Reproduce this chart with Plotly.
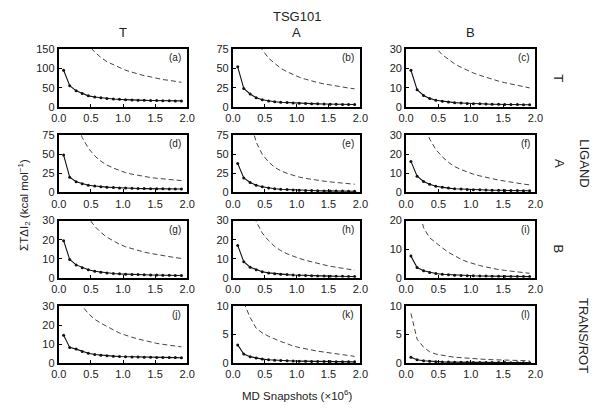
import plotly.graph_objects as go

# x positions (MD snapshots, x10^6)
snapshots = [0.075, 0.17, 0.27, 0.365, 0.46, 0.56, 0.655, 0.75, 0.85, 0.945,
             1.04, 1.14, 1.235, 1.33, 1.43, 1.525, 1.62, 1.72, 1.815, 1.91]

panel_labels = ["(a)", "(b)", "(c)", "(d)", "(e)", "(f)",
                "(g)", "(h)", "(i)", "(j)", "(k)", "(l)"]
col_titles = ["T", "A", "B"]
row_titles = ["T", "A", "B"]
y_max = [150, 75, 30, 75, 75, 30, 30, 30, 20, 30, 10, 10]
y_dtick = [50, 25, 10, 25, 25, 10, 10, 10, 10, 10, 5, 5]

N = None
solid_a = [95, 55, 42, 35, 29, 26, 24, 22, 21, 20, 19, 18.5, 18, 17.5, 17, 16.8, 16.5, 16.2, 16, 16]
dash_a = [N, N, N, 186, 160, 142, 128, 117, 109, 101, 95, 90, 85, 81, 78, 74, 71, 69, 66, 64]
solid_b = [52, 24, 17, 12, 9.5, 8, 7, 6.3, 5.8, 5.3, 5, 4.7, 4.4, 4.2, 4, 3.8, 3.7, 3.5, 3.4, 3.3]
dash_b = [N, N, N, 88, 74, 63, 56, 50, 45.5, 41.7, 38.6, 35.9, 33.6, 31.7, 29.9, 28.4, 27, 25.8, 24.6, 23.6]
solid_c = [19, 9, 6, 4.5, 3.5, 3, 2.6, 2.3, 2.1, 1.9, 1.8, 1.7, 1.6, 1.5, 1.45, 1.4, 1.35, 1.3, 1.25, 1.2]
dash_c = [N, N, N, 36, 30.5, 27, 24.5, 22.3, 20.5, 19, 17.6, 16.4, 15.3, 14.3, 13.4, 12.6, 11.9, 11.2, 10.5, 9.9]
solid_d = [49, 20, 14, 11.5, 9.5, 8.5, 7.5, 7, 6.5, 6, 5.8, 5.5, 5.3, 5.1, 5, 4.9, 4.8, 4.7, 4.6, 4.5]
dash_d = [N, N, 95, 72, 58, 48, 41, 36, 32, 28.5, 26, 24, 22.3, 20.8, 19.6, 18.6, 17.7, 16.9, 16.2, 15.6]
solid_e = [38, 19, 13, 9.5, 7.5, 6, 5, 4.3, 3.8, 3.4, 3.0, 2.7, 2.5, 2.3, 2.1, 2.0, 1.9, 1.8, 1.7, 1.6]
dash_e = [N, N, 95, 66, 50, 40, 33, 28.5, 25, 22.3, 20.2, 18.5, 17, 15.8, 14.8, 13.9, 13, 12.2, 11.5, 10.8]
solid_f = [16.3, 8.5, 5.8, 4.3, 3.3, 2.7, 2.3, 2.0, 1.8, 1.6, 1.5, 1.4, 1.3, 1.2, 1.15, 1.1, 1.05, 1.0, 0.95, 0.9]
dash_f = [N, N, 37, 28, 22.5, 18.7, 15.8, 13.6, 12, 10.7, 9.6, 8.7, 7.9, 7.2, 6.5, 6, 5.4, 4.9, 4.4, 4.0]
solid_g = [19.5, 9.6, 6.8, 5.3, 4.2, 3.5, 3.0, 2.6, 2.3, 2.1, 1.9, 1.8, 1.7, 1.6, 1.5, 1.45, 1.4, 1.35, 1.3, 1.25]
dash_g = [N, N, N, 37, 31.5, 27, 23.8, 21.3, 19.3, 17.6, 16.3, 15.2, 14.3, 13.5, 12.8, 12.2, 11.6, 11.1, 10.6, 10.2]
solid_h = [17, 8.5, 5.6, 4.2, 3.2, 2.6, 2.2, 1.9, 1.7, 1.5, 1.35, 1.2, 1.1, 1.0, 0.95, 0.9, 0.85, 0.8, 0.75, 0.7]
dash_h = [N, N, 40, 29.5, 23.5, 19.5, 16.5, 14.3, 12.6, 11.3, 10.2, 9.2, 8.3, 7.5, 6.8, 6.1, 5.5, 5.0, 4.5, 4.0]
solid_i = [7.6, 3.6, 2.5, 1.9, 1.5, 1.25, 1.1, 0.95, 0.85, 0.78, 0.72, 0.67, 0.62, 0.58, 0.55, 0.52, 0.5, 0.48, 0.46, 0.44]
dash_i = [N, 27, 17.5, 14, 12.2, 10.5, 8.9, 7.6, 6.5, 5.6, 4.9, 4.3, 3.8, 3.3, 2.9, 2.6, 2.3, 2.0, 1.8, 1.6]
solid_j = [14.6, 8.3, 7.4, 6.2, 5.2, 4.6, 4.2, 3.9, 3.7, 3.5, 3.4, 3.3, 3.2, 3.15, 3.1, 3.05, 3.0, 3.0, 2.95, 2.9]
dash_j = [N, N, 36, 30, 26, 23, 21, 19.5, 17.5, 15.8, 14.6, 13.6, 12.7, 11.9, 11.1, 10.4, 9.9, 9.4, 9.0, 8.6]
solid_k = [3.2, 1.6, 1.15, 0.9, 0.72, 0.6, 0.52, 0.46, 0.42, 0.39, 0.36, 0.34, 0.32, 0.30, 0.29, 0.28, 0.27, 0.26, 0.25, 0.24]
dash_k = [N, 10.6, 8, 6.1, 5.3, 4.7, 4.2, 3.8, 3.4, 3.0, 2.75, 2.5, 2.3, 2.1, 1.95, 1.8, 1.65, 1.5, 1.35, 1.2]
solid_l = [1.05, 0.6, 0.42, 0.33, 0.27, 0.23, 0.2, 0.18, 0.16, 0.15, 0.14, 0.13, 0.12, 0.12, 0.11, 0.11, 0.1, 0.1, 0.1, 0.1]
dash_l = [8.7, 4.2, 2.8, 2.0, 1.6, 1.35, 1.2, 1.05, 0.95, 0.85, 0.78, 0.72, 0.66, 0.62, 0.58, 0.54, 0.5, 0.47, 0.44, 0.42]

solid_series = [solid_a, solid_b, solid_c, solid_d, solid_e, solid_f,
                solid_g, solid_h, solid_i, solid_j, solid_k, solid_l]
dash_series = [dash_a, dash_b, dash_c, dash_d, dash_e, dash_f,
               dash_g, dash_h, dash_i, dash_j, dash_k, dash_l]

# page body has an 8px margin; size the figure to fit the window
OFF = 8
W, H = 604 - 2 * OFF, 417 - 2 * OFF
col_px = [(52, 184), (231, 362), (409, 542)]
row_px = [(44, 104), (133, 192), (221, 280), (309, 368)]


def px_x(p):
    return (p - OFF) / W


def px_y(p):
    return 1 - (p - OFF) / H


TXT = "#222"
fig = go.Figure()
layout = dict(width=W, height=H, margin=dict(l=0, r=0, t=0, b=0), autosize=False,
              paper_bgcolor="white", plot_bgcolor="white", showlegend=False,
              font=dict(family="Liberation Sans, Arial, sans-serif", color=TXT, size=11))
annotations = []


def note(text, x, y, size, angle=0, xanchor="center"):
    annotations.append(dict(text=text, x=x, y=y, xref="paper", yref="paper",
                            xanchor=xanchor, yanchor="middle", showarrow=False,
                            textangle=angle, font=dict(size=size, color=TXT)))


for i in range(12):
    r, c = divmod(i, 3)
    n = i + 1
    xa = "xaxis" if n == 1 else f"xaxis{n}"
    ya = "yaxis" if n == 1 else f"yaxis{n}"
    xref = "x" if n == 1 else f"x{n}"
    yref = "y" if n == 1 else f"y{n}"
    x0, x1 = col_px[c]
    y0, y1 = row_px[r]
    layout[xa] = dict(domain=[px_x(x0), px_x(x1)], anchor=yref, range=[0, 2.0],
                      tickvals=[0, 0.5, 1.0, 1.5, 2.0],
                      ticktext=["0.0", "0.5", "1.0", "1.5", "2.0"],
                      ticks="inside", ticklen=3, tickcolor="black", tickwidth=1,
                      showline=True, linecolor="black", linewidth=2, mirror=True,
                      showgrid=False, zeroline=False, tickfont=dict(size=11, color=TXT))
    layout[ya] = dict(domain=[px_y(y1), px_y(y0)], anchor=xref,
                      range=[0, y_max[i]], dtick=y_dtick[i],
                      ticks="inside", ticklen=3, tickcolor="black", tickwidth=1,
                      showline=True, linecolor="black", linewidth=2, mirror=True,
                      showgrid=False, zeroline=False, tickfont=dict(size=11, color=TXT))
    fig.add_trace(go.Scatter(x=snapshots, y=dash_series[i], mode="lines",
                             line=dict(color="#444", width=1, dash="5px,3px"),
                             xaxis=xref, yaxis=yref, cliponaxis=True))
    fig.add_trace(go.Scatter(x=snapshots, y=solid_series[i], mode="lines+markers",
                             line=dict(color="#111", width=1.1),
                             marker=dict(symbol="circle", size=3, color="#111"),
                             xaxis=xref, yaxis=yref, cliponaxis=True))
    note(panel_labels[i], px_x(x1 - 4), px_y(y0 + 9), 10, xanchor="right")

# column titles and main title
for c in range(3):
    x0, x1 = col_px[c]
    note(col_titles[c], px_x((x0 + x1) / 2), px_y(27), 13)
note("TSG101", px_x(297), px_y(11), 13)
# row titles
for r in range(3):
    y0, y1 = row_px[r]
    note(row_titles[r], px_x(566), px_y((y0 + y1) / 2), 13, angle=90)
note("LIGAND", px_x(592), px_y(162), 13, angle=90)
note("TRANS/ROT", px_x(592), px_y(339), 13, angle=90)
# axis titles
note("MD Snapshots (×10<sup>6</sup>)", px_x(297), px_y(401), 11.5)
note("ΣTΔI<sub>2</sub> (kcal mol<sup>−1</sup>)", px_x(16), px_y(205), 11.5, angle=-90)

layout["annotations"] = annotations
fig.update_layout(**layout)
fig.write_html("out.html")
